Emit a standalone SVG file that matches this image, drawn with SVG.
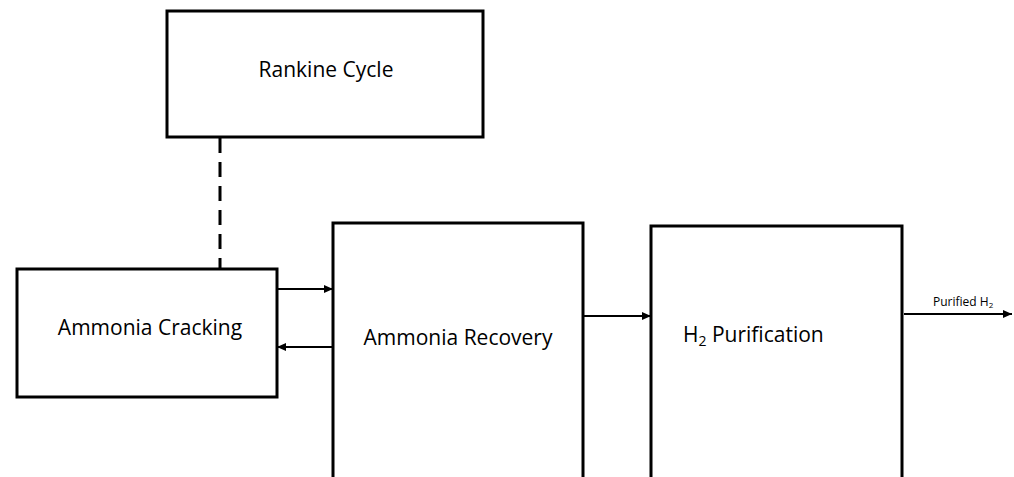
<svg xmlns="http://www.w3.org/2000/svg" width="1014" height="477" viewBox="0 0 1014 477">
  <style>
    .box { fill: #ffffff; stroke: #000000; stroke-width: 3; }
    .lbl { font-family: "Open Sans", "Liberation Sans", sans-serif; font-size: 21px; fill: #000000; }
    .small { font-family: "Open Sans", "Liberation Sans", sans-serif; font-size: 12px; fill: #000000; }
    .conn { stroke: #000000; stroke-width: 2; fill: none; }
    .dash { stroke: #000000; stroke-width: 3; fill: none; stroke-dasharray: 15 9; }
  </style>
  <defs>
    <marker id="arrow" markerUnits="userSpaceOnUse" markerWidth="9" markerHeight="8" refX="9" refY="4" orient="auto">
      <path d="M0,0 L9,4 L0,8 Z" fill="#000000"/>
    </marker>
  </defs>
  <rect width="1014" height="477" fill="#ffffff"/>

  <g id="connectors">
    <line class="dash" x1="220" y1="138" x2="220" y2="269"/>
    <line class="conn" x1="278" y1="289" x2="333" y2="289" marker-end="url(#arrow)"/>
    <line class="conn" x1="332" y1="347" x2="277" y2="347" marker-end="url(#arrow)"/>
    <line class="conn" x1="584" y1="316" x2="651" y2="316" marker-end="url(#arrow)"/>
    <line class="conn" x1="904" y1="314" x2="1012" y2="314" marker-end="url(#arrow)"/>
    <text class="small" x="933" y="306">Purified H<tspan font-size="8" dy="2">2</tspan></text>
  </g>

  <g id="rankine-cycle">
    <rect class="box" x="167" y="11" width="316" height="126"/>
    <text class="lbl" x="326" y="77" text-anchor="middle">Rankine Cycle</text>
  </g>

  <g id="ammonia-cracking">
    <rect class="box" x="17" y="269" width="260" height="128"/>
    <text class="lbl" x="150" y="335" text-anchor="middle">Ammonia Cracking</text>
  </g>

  <g id="ammonia-recovery">
    <rect class="box" x="333" y="223" width="250" height="262"/>
    <text class="lbl" x="458" y="345" text-anchor="middle">Ammonia Recovery</text>
  </g>

  <g id="h2-purification">
    <rect class="box" x="651" y="226" width="251" height="262"/>
    <text class="lbl" x="683" y="342">H<tspan font-size="14" dy="4">2</tspan><tspan dy="-4"> Purification</tspan></text>
  </g>
</svg>
